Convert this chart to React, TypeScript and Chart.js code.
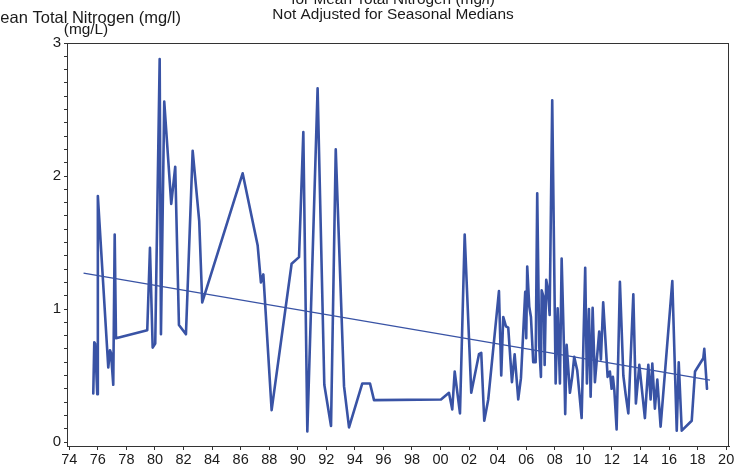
import React, { useEffect, useRef } from "react";
import { Chart, registerables } from "chart.js";

Chart.register(...registerables);

// Sample dates (decimal years) and mean total nitrogen (mg/L)
const years: number[] = [
  1975.68, 1975.75, 1975.81, 1975.96, 1976.0, 1976.73, 1976.85, 1976.92, 1977.08, 1977.18,
  1977.27, 1979.46, 1979.65, 1979.84, 1980.02, 1980.33, 1980.42, 1980.65, 1981.14, 1981.42,
  1981.68, 1982.17, 1982.64, 1983.1, 1983.31, 1986.14, 1987.19, 1987.42, 1987.59, 1988.17,
  1989.57, 1990.09, 1990.39, 1990.67, 1991.39, 1991.86, 1992.33, 1992.66, 1993.24, 1993.59,
  1994.52, 1995.06, 1995.34, 2000.03, 2000.59, 2000.82, 2000.99, 2001.36, 2001.69, 2002.15,
  2002.69, 2002.85, 2003.06, 2003.34, 2004.09, 2004.25, 2004.39, 2004.58, 2004.74, 2005.0,
  2005.19, 2005.44, 2005.63, 2005.93, 2006.0, 2006.07, 2006.21, 2006.33, 2006.49, 2006.66,
  2006.77, 2006.91, 2007.03, 2007.08, 2007.22, 2007.29, 2007.4, 2007.5, 2007.64, 2007.82,
  2008.06, 2008.2, 2008.36, 2008.48, 2008.64, 2008.73, 2008.83, 2009.06, 2009.22, 2009.36,
  2009.57, 2009.88, 2010.13, 2010.25, 2010.39, 2010.51, 2010.65, 2010.81, 2011.11, 2011.23,
  2011.39, 2011.7, 2011.86, 2011.98, 2012.07, 2012.17, 2012.33, 2012.56, 2012.8, 2012.96,
  2013.15, 2013.5, 2013.68, 2013.92, 2014.31, 2014.55, 2014.71, 2014.83, 2015.01, 2015.18,
  2015.41, 2016.23, 2016.54, 2016.68, 2016.89, 2017.59, 2017.82, 2018.4, 2018.47, 2018.66,
];

const nitrogen: number[] = [
  0.365, 0.75, 0.74, 0.36, 1.85, 0.56, 0.69, 0.67, 0.43, 1.56,
  0.78, 0.84, 1.46, 0.71, 0.74, 2.88, 0.81, 2.56, 1.79, 2.07,
  0.88, 0.81, 2.19, 1.66, 1.05, 2.02, 1.48, 1.2, 1.26, 0.24,
  1.34, 1.39, 2.33, 0.08, 2.66, 0.43, 0.12, 2.2, 0.42, 0.11,
  0.44, 0.44, 0.315, 0.32, 0.37, 0.245, 0.53, 0.215, 1.56, 0.37,
  0.66, 0.67, 0.16, 0.32, 1.135, 0.5, 0.94, 0.87, 0.86, 0.45,
  0.66, 0.32, 0.48, 1.13, 0.78, 1.32, 1.02, 0.94, 0.6, 0.6,
  1.87, 0.72, 0.49, 1.14, 1.09, 0.58, 1.22, 1.16, 0.955, 2.57,
  0.44, 1.005, 0.44, 1.38, 0.72, 0.21, 0.73, 0.37, 0.49, 0.64,
  0.54, 0.18, 1.31, 0.44, 1.0, 0.34, 1.01, 0.45, 0.83, 0.62,
  1.05, 0.49, 0.53, 0.4, 0.49, 0.39, 0.095, 1.205, 0.5, 0.36,
  0.215, 1.11, 0.29, 0.58, 0.18, 0.58, 0.32, 0.59, 0.25, 0.47,
  0.115, 1.21, 0.085, 0.6, 0.085, 0.16, 0.53, 0.63, 0.7, 0.4,
];

// Fitted trend line end points
const trendYears: number[] = [1975.0, 2018.87];
const trendValues: number[] = [1.27, 0.466];

const titleLine1 = "for Mean Total Nitrogen (mg/l)";
const titleLine2 = "Not Adjusted for Seasonal Medians";
const yTitle = "Mean Total Nitrogen (mg/l)";
const yUnits = "(mg/L)";

const LINE_COLOR = "#3953a5";
const AXIS_COLOR = "#333333";
const TEXT_COLOR = "#1a1a1a";
const FONT = "'Liberation Sans', Arial, sans-serif";

const textPlugin = {
  id: "textPlugin",
  afterDraw(chart: any) {
    const { ctx, chartArea } = chart;
    ctx.save();
    ctx.strokeStyle = AXIS_COLOR;
    ctx.lineWidth = 1;
    ctx.strokeRect(
      Math.round(chartArea.left) + 0.5,
      Math.round(chartArea.top) + 0.5,
      Math.round(chartArea.right - chartArea.left) - 1,
      Math.round(chartArea.bottom - chartArea.top)
    );
    ctx.fillStyle = TEXT_COLOR;
    ctx.font = `15.4px ${FONT}`;
    ctx.textBaseline = "middle";
    ctx.textAlign = "center";
    ctx.fillText(titleLine1, 393, 0);
    ctx.fillText(titleLine2, 393, 15);
    ctx.font = `16.5px ${FONT}`;
    ctx.textAlign = "right";
    ctx.fillText(yTitle, 181, 18);
    ctx.font = `15.4px ${FONT}`;
    ctx.textAlign = "center";
    ctx.fillText(yUnits, 86, 30);
    ctx.restore();
  },
};

export default function App() {
  const canvasRef = useRef<HTMLCanvasElement | null>(null);

  useEffect(() => {
    if (!canvasRef.current) return;
    const chart = new Chart(canvasRef.current, {
      type: "line",
      data: {
        datasets: [
          {
            label: "Mean Total Nitrogen",
            data: years.map((x, i) => ({ x, y: nitrogen[i] })),
            borderColor: LINE_COLOR,
            borderWidth: 2.6,
            pointRadius: 0,
            borderJoinStyle: "round",
            borderCapStyle: "round",
            tension: 0,
          },
          {
            label: "Trend",
            data: trendYears.map((x, i) => ({ x, y: trendValues[i] })),
            borderColor: LINE_COLOR,
            borderWidth: 1.3,
            pointRadius: 0,
            tension: 0,
          },
        ],
      },
      options: {
        responsive: false,
        animation: false,
        layout: { padding: { top: 43, right: 7, left: 0, bottom: 0 } },
        plugins: {
          legend: { display: false },
          tooltip: { enabled: false },
          title: { display: false },
        },
        scales: {
          x: {
            type: "linear",
            min: 1973.84,
            max: 2020.2,
            afterFit(scale: any) {
              scale.height = 22;
            },
            border: { display: true, color: AXIS_COLOR, width: 1 },
            grid: {
              drawOnChartArea: false,
              drawTicks: true,
              tickLength: 4,
              tickColor: AXIS_COLOR,
            },
            ticks: {
              stepSize: 2,
              includeBounds: false,
              autoSkip: false,
              maxRotation: 0,
              padding: 1,
              color: TEXT_COLOR,
              font: { family: FONT, size: 14.5 },
              callback: (v: any) => {
                const n = Math.round(Number(v));
                return String(n % 100).padStart(2, "0");
              },
            },
          },
          y: {
            type: "linear",
            min: -0.03,
            max: 3,
            afterFit(scale: any) {
              scale.width = 67;
            },
            border: { display: true, color: AXIS_COLOR, width: 1 },
            grid: {
              drawOnChartArea: false,
              drawTicks: true,
              tickLength: 3,
              tickColor: AXIS_COLOR,
            },
            ticks: {
              stepSize: 0.1,
              includeBounds: false,
              autoSkip: false,
              padding: 3,
              color: TEXT_COLOR,
              font: { family: FONT, size: 15 },
              callback: (v: any) => {
                const n = Number(v);
                return Math.abs(n - Math.round(n)) < 1e-6 ? String(Math.round(n)) : "";
              },
            },
          },
        },
      },
      plugins: [textPlugin],
    });
    return () => chart.destroy();
  }, []);

  return (
    <div style={{ position: "absolute", left: 0, top: 0, width: 736, height: 468, background: "#fff" }}>
      <canvas ref={canvasRef} width={736} height={468} style={{ display: "block" }} />
    </div>
  );
}
